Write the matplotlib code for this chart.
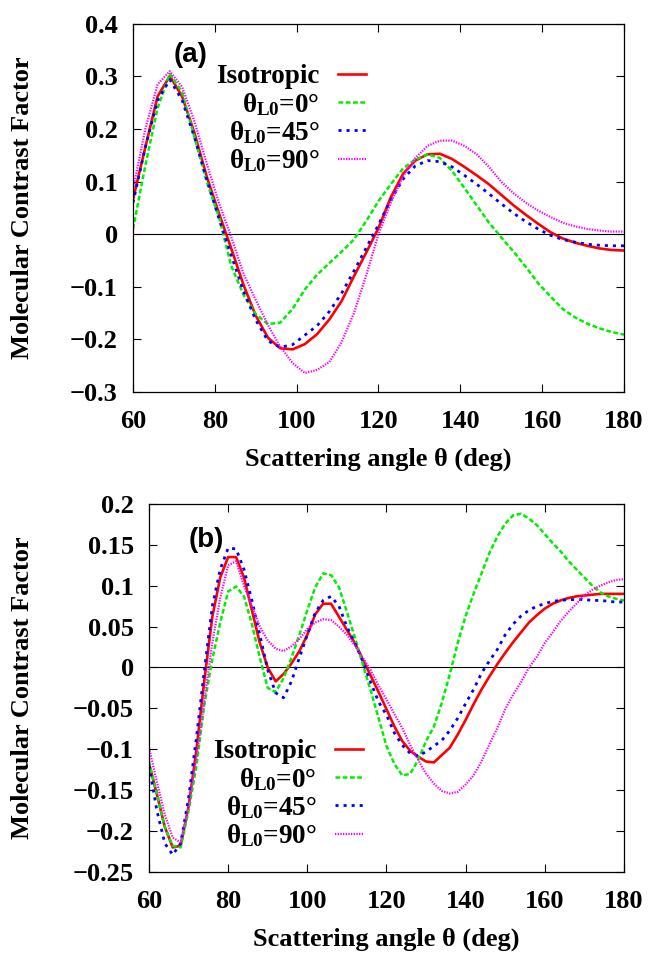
import matplotlib
matplotlib.use("Agg")
import matplotlib.pyplot as plt
from matplotlib.ticker import FuncFormatter, MultipleLocator

# panel (a): 3 degree grid
theta_a = list(range(60, 181, 3))
iso_a = [0.066, 0.165, 0.262, 0.301, 0.262, 0.193, 0.11, 0.04, -0.027, -0.096,
         -0.155, -0.197, -0.217, -0.219, -0.209, -0.19, -0.162, -0.127, -0.08, -0.035,
         0.012, 0.07, 0.115, 0.14, 0.152, 0.153, 0.143, 0.128, 0.112, 0.095,
         0.075, 0.055, 0.037, 0.02, 0.004, -0.008, -0.016, -0.022, -0.027, -0.03, -0.031]
l0_a = [0.01, 0.13, 0.24, 0.305, 0.27, 0.185, 0.1, 0.033, -0.06, -0.115,
        -0.152, -0.171, -0.168, -0.142, -0.105, -0.077, -0.055, -0.033, -0.01, 0.025,
        0.063, 0.095, 0.125, 0.142, 0.152, 0.145, 0.12, 0.088, 0.055, 0.022,
        -0.006, -0.033, -0.062, -0.093, -0.118, -0.142, -0.158, -0.17, -0.179, -0.186, -0.191]
l45_a = [0.06, 0.165, 0.255, 0.294, 0.255, 0.185, 0.105, 0.03, -0.04, -0.108,
         -0.163, -0.203, -0.215, -0.21, -0.192, -0.174, -0.147, -0.112, -0.07, -0.026,
         0.018, 0.065, 0.105, 0.13, 0.14, 0.138, 0.128, 0.112, 0.095, 0.077,
         0.058, 0.04, 0.024, 0.01, -0.002, -0.01, -0.015, -0.019, -0.021, -0.022, -0.022]
l90_a = [0.085, 0.2, 0.285, 0.31, 0.28, 0.215, 0.135, 0.06, -0.005, -0.075,
         -0.125, -0.173, -0.214, -0.245, -0.264, -0.258, -0.243, -0.205, -0.15, -0.078,
         0.0, 0.06, 0.11, 0.145, 0.168, 0.178, 0.178, 0.168, 0.152, 0.128,
         0.1, 0.078, 0.06, 0.045, 0.033, 0.022, 0.015, 0.01, 0.007, 0.005, 0.005]

# panel (b): 2 degree grid
theta_b = list(range(60, 181, 2))
iso_b = [-0.117, -0.155, -0.195, -0.22, -0.218, -0.17, -0.1, -0.015, 0.062, 0.11,
         0.135, 0.135, 0.11, 0.07, 0.03, 0.0, -0.017, -0.008, 0.005, 0.02,
         0.04, 0.065, 0.078, 0.078, 0.062, 0.046, 0.03, 0.01, -0.01, -0.03,
         -0.051, -0.072, -0.09, -0.102, -0.109, -0.115, -0.116, -0.107, -0.098, -0.082,
         -0.064, -0.045, -0.027, -0.011, 0.004, 0.018, 0.031, 0.043, 0.055, 0.064,
         0.072, 0.078, 0.082, 0.085, 0.087, 0.088, 0.089, 0.09, 0.09, 0.09, 0.09]
l0_b = [-0.115, -0.155, -0.195, -0.218, -0.22, -0.175, -0.12, -0.045, 0.01, 0.055,
        0.093, 0.099, 0.087, 0.053, 0.012, -0.025, -0.03, -0.013, 0.012, 0.04,
        0.07, 0.098, 0.115, 0.113, 0.098, 0.068, 0.037, 0.004, -0.028, -0.062,
        -0.096, -0.118, -0.132, -0.13, -0.113, -0.09, -0.072, -0.043, -0.008, 0.03,
        0.063, 0.09, 0.115, 0.14, 0.16, 0.176, 0.186, 0.188, 0.182, 0.174,
        0.163, 0.152, 0.142, 0.13, 0.12, 0.11, 0.1, 0.092, 0.087, 0.084, 0.082]
l45_b = [-0.12, -0.175, -0.215, -0.229, -0.215, -0.16, -0.085, -0.003, 0.075, 0.12,
         0.146, 0.145, 0.12, 0.082, 0.04, -0.003, -0.031, -0.037, -0.017, 0.012,
         0.04, 0.067, 0.082, 0.087, 0.075, 0.05, 0.03, 0.008, -0.018, -0.042,
         -0.058, -0.08, -0.095, -0.105, -0.108, -0.103, -0.096, -0.089, -0.077, -0.062,
         -0.044, -0.027, -0.007, 0.008, 0.022, 0.04, 0.053, 0.063, 0.07, 0.075,
         0.078, 0.081, 0.082, 0.083, 0.083, 0.083, 0.082, 0.082, 0.081, 0.08, 0.08]
l90_b = [-0.098, -0.14, -0.18, -0.208, -0.214, -0.17, -0.11, -0.04, 0.03, 0.085,
         0.125, 0.13, 0.1, 0.075, 0.05, 0.033, 0.023, 0.02, 0.026, 0.035,
         0.047, 0.055, 0.059, 0.058, 0.05, 0.04, 0.027, 0.012, -0.003, -0.022,
         -0.039, -0.057, -0.074, -0.095, -0.113, -0.13, -0.142, -0.151, -0.154, -0.152,
         -0.143, -0.132, -0.115, -0.094, -0.074, -0.051, -0.033, -0.018, 0.0, 0.013,
         0.03, 0.043, 0.057, 0.068, 0.078, 0.088, 0.095, 0.1, 0.104, 0.107, 0.108]

labels = ["Isotropic", r"$\theta_{\mathrm{L0}}$=0°", r"$\theta_{\mathrm{L0}}$=45°",
          r"$\theta_{\mathrm{L0}}$=90°"]

plt.rcParams["font.family"] = "Liberation Serif"
plt.rcParams["font.weight"] = "bold"
plt.rcParams["axes.labelweight"] = "bold"
plt.rcParams["mathtext.fontset"] = "custom"
plt.rcParams["mathtext.rm"] = "Liberation Serif:bold"
plt.rcParams["mathtext.it"] = "Liberation Serif:bold"
plt.rcParams["mathtext.bf"] = "Liberation Serif:bold"

FS = 19


def fmt(v, _pos):
    return ("%g" % round(v, 4)).replace("-", "\u2212")


def draw_panel(ax, x, series, ylim, ystep, tag, tag_xy, leg_anchor, ylab_x):
    ax.axhline(0, color="black", lw=0.8, zorder=1)
    styles = [
        dict(color="red", lw=1.9, ls="-"),
        dict(color="#00ee00", lw=1.8, ls=(0, (1.9, 1.0))),
        dict(color="blue", lw=2.0, ls=(0, (1.1, 1.8))),
        dict(color="magenta", lw=1.6, ls=(0, (0.6, 0.6))),
    ]
    for y, st, lab in zip(series, styles, labels):
        ax.plot(x, y, label=lab, zorder=2, **st)
    ax.set_xlim(60, 180)
    ax.set_ylim(*ylim)
    ax.xaxis.set_major_locator(MultipleLocator(20))
    ax.yaxis.set_major_locator(MultipleLocator(ystep))
    ax.yaxis.set_major_formatter(FuncFormatter(fmt))
    ax.tick_params(direction="in", length=6, width=0.8, top=True, right=True,
                   labelsize=FS)
    ax.tick_params(axis="x", pad=13)
    ax.tick_params(axis="y", pad=11)
    for s in ax.spines.values():
        s.set_linewidth(0.9)
    ax.set_xlabel("Scattering angle θ (deg)", fontsize=FS)
    ax.set_ylabel("Molecular Contrast Factor", fontsize=FS)
    ax.xaxis.set_label_coords(0.5, -0.152)
    ax.yaxis.set_label_coords(ylab_x, 0.5)
    ax.text(tag_xy[0], tag_xy[1], tag, family="Liberation Sans", weight="bold",
            fontsize=20, ha="center", va="center")
    ax.legend(loc="upper right", bbox_to_anchor=leg_anchor, markerfirst=False,
              frameon=False, fontsize=19.5, handlelength=1.05, handletextpad=0.65,
              labelspacing=0.05, borderpad=0, borderaxespad=0)


fig = plt.figure(figsize=(6.52, 9.56), dpi=100)
ax_a = fig.add_axes([0.204, 0.590, 0.753, 0.385])
ax_b = fig.add_axes([0.2285, 0.0879, 0.7285, 0.385])

draw_panel(ax_a, theta_a, [iso_a, l0_a, l45_a, l90_a], (-0.3, 0.4), 0.1,
           "(a)", (74.1, 0.341), (0.4745, 0.89), -0.2016)
draw_panel(ax_b, theta_b, [iso_b, l0_b, l45_b, l90_b], (-0.25, 0.2), 0.05,
           "(b)", (74.4, 0.156), (0.4505, 0.36), -0.242)

fig.savefig("out.png", dpi=100)
